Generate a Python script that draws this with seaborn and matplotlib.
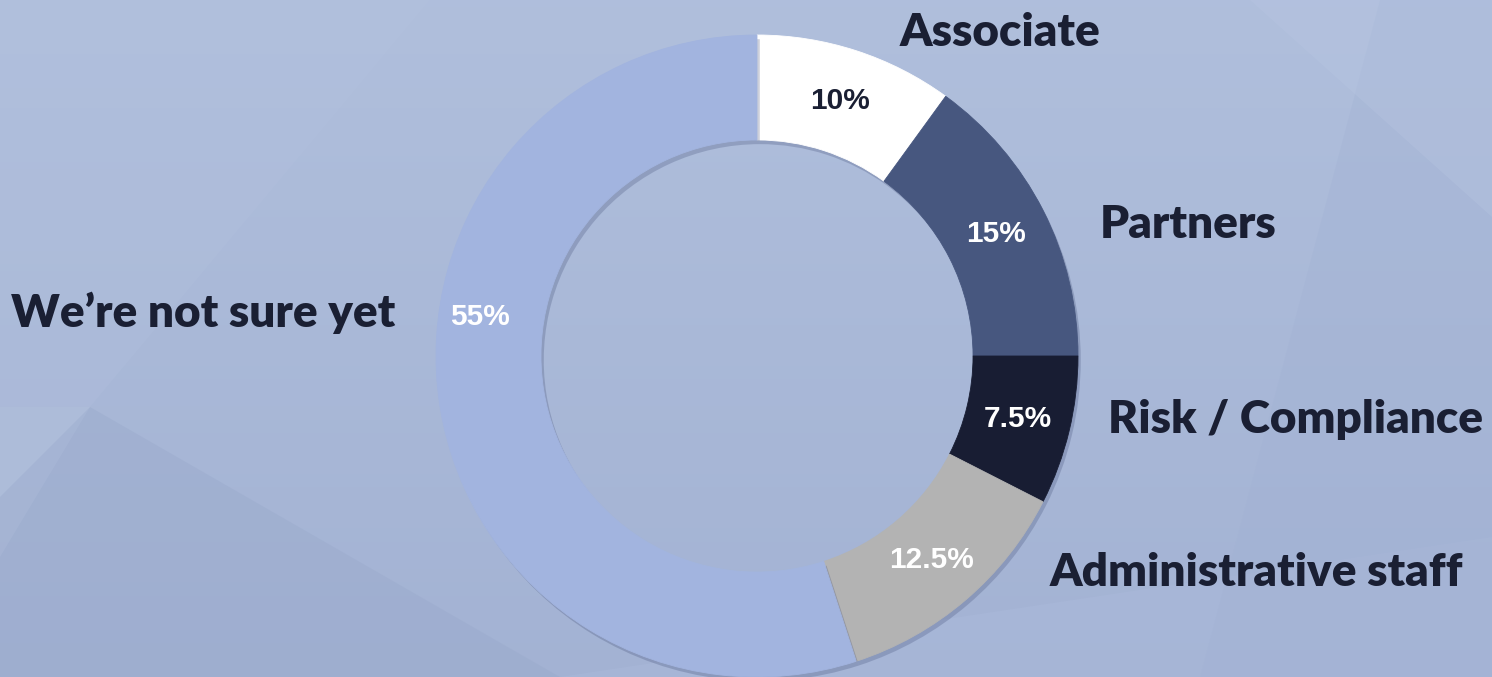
import numpy as np
import seaborn as sns
import matplotlib.pyplot as plt
import matplotlib.patheffects as pe
from matplotlib.patches import Polygon

# data
roles = ["Associate", "Partners", "Risk / Compliance", "Administrative staff", "We\u2019re not sure yet"]
shares = [10, 15, 7.5, 12.5, 55]
pct_text = ["10%", "15%", "7.5%", "12.5%", "55%"]
colors = ["#ffffff", "#47577f", "#181d33", "#b3b3b3", "#a2b4df"]
pct_colors = ["#1a1f33", "white", "white", "white", "white"]

sns.set_theme(style="white")
plt.rcParams["font.family"] = ["Lato", "DejaVu Sans"]

W, H = 1492, 677
fig = plt.figure(figsize=(W / 100, H / 100), dpi=100)
ax = fig.add_axes([0, 0, 1, 1])

# background: soft gradient plus a few faceted shapes
gx = np.linspace(0, 1, 200)
gy = np.linspace(0, 1, 100)
GX, GY = np.meshgrid(gx, gy)
top = np.array([0.690, 0.749, 0.863])
bot = np.array([0.640, 0.700, 0.830])
grad = top[None, None, :] * GY[..., None] + bot[None, None, :] * (1 - GY[..., None])
ax.imshow(grad, extent=[0, W, 0, H], origin="lower", aspect="auto", zorder=0)

shapes = [
    ([(0, 0), (0, 270), (90, 270), (560, 0)], "#9aaacc", 0.45),
    ([(0, 270), (90, 270), (0, 180)], "#b6c4e0", 0.5),
    ([(0, 120), (90, 270), (430, 677), (0, 677)], "#b4c2df", 0.25),
    ([(330, 0), (560, 0), (1492, 140), (1492, 0)], "#aab9da", 0.5),
    ([(1200, 0), (1492, 0), (1492, 677), (1380, 677)], "#a2b2d4", 0.35),
    ([(1250, 677), (1492, 677), (1492, 460)], "#b8c6e2", 0.35),
]
for pts, c, a in shapes:
    ax.add_patch(Polygon(pts, closed=True, facecolor=c, edgecolor="none", alpha=a, zorder=1))

cx, cy, R = 757, 321, 321
wedges, _ = ax.pie(
    shares,
    colors=colors,
    startangle=90,
    counterclock=False,
    radius=R,
    center=(cx, cy),
    frame=True,
    wedgeprops=dict(width=R * 0.327, linewidth=0,
                    path_effects=[pe.SimplePatchShadow(offset=(2, -3), shadow_rgbFace="#3a4670", alpha=0.25),
                                  pe.Normal()]),
)
for w in wedges:
    w.set_zorder(3)
    # hide the hairline seam between neighbouring wedges
    w.set_edgecolor(w.get_facecolor())
    w.set_linewidth(0.6)
ax.set_xlim(0, W)
ax.set_ylim(0, H)
ax.set_aspect("equal")
ax.axis("off")

# percentage labels along the ring
ring_r = R * 0.835
angle = 90.0
for i, (s, t) in enumerate(zip(shares, pct_text)):
    mid = angle - s * 3.6 / 2
    angle -= s * 3.6
    r = ring_r
    if i == len(shares) - 1:
        mid, r = 172, R * 0.87
    x = cx + r * np.cos(np.radians(mid))
    y = cy + r * np.sin(np.radians(mid))
    ax.text(x, y, t, ha="center", va="center", fontsize=21.5, fontweight="bold",
            color=pct_colors[i], family=["Liberation Sans", "DejaVu Sans"], zorder=5)

# category labels
label_pos = [(1000, 645), (1188, 453), (1296, 257), (1256, 104), (203, 364)]
for name, (x, y) in zip(roles, label_pos):
    ax.text(x, y, name, ha="center", va="center", fontsize=33, fontweight="heavy",
            color="#1a1f33", zorder=5)

plt.savefig("out.png", dpi=100)
